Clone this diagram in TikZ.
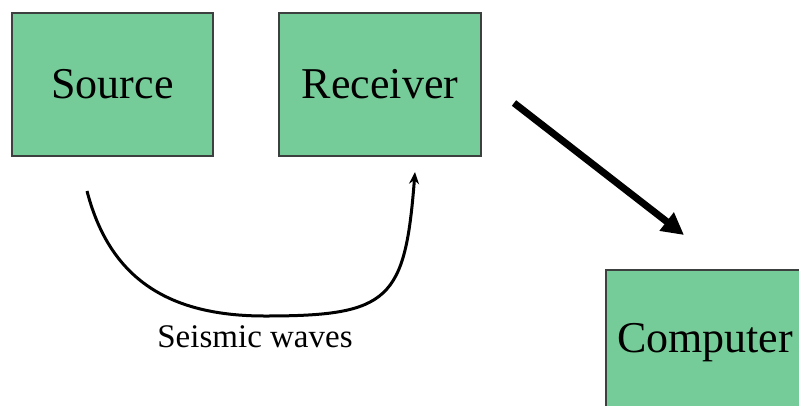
\documentclass[tikz,border=0pt]{standalone}
\usepackage{fontspec}
\setmainfont{Liberation Serif}
\usetikzlibrary{arrows.meta}
\definecolor{boxgreen}{RGB}{118,204,152}
\definecolor{boxedge}{RGB}{60,64,62}
\tikzset{
  greenbox/.style={draw=boxedge, line width=2pt, fill=boxgreen, inner sep=0pt,
    font=\fontsize{44}{48}\selectfont, text=black},
  bigarrow/.style={line width=7pt, -{Triangle[length=22pt,width=22pt]}},
  wavearrow/.style={line width=3pt, -{Stealth[length=12pt,width=10pt]}},
  lbl/.style={font=\fontsize{33}{36}\selectfont, inner sep=0pt}
}
\begin{document}
\begin{tikzpicture}[x=1pt,y=-1pt]
\useasboundingbox (0,0) rectangle (799,405);
\fill[white] (0,0) rectangle (799,405);
\begin{scope}
\clip (0,0) rectangle (799,405);
\node[greenbox, minimum width=201pt, minimum height=143pt] (src) at (112.5,84.5) {Source};
\node[greenbox, minimum width=202pt, minimum height=143pt] (rcv) at (380,84.5) {Receiver};
\node[greenbox, minimum width=198pt, minimum height=146pt] (cmp) at (705,343) {Computer};
\end{scope}
\coordinate (a1) at (514,103);
\coordinate (a2) at (684,235);
\draw[bigarrow] (a1) -- (a2);
\coordinate (w1) at (87,191);
\coordinate (wm) at (265,316);
\coordinate (w2) at (415,172);
\draw[wavearrow] (w1) .. controls (110,280) and (170,316) .. (wm)
  .. controls (390,316) and (405,300) .. (w2);
\node[lbl] (waves) at (255,337) {Seismic waves};
\end{tikzpicture}
\end{document}
